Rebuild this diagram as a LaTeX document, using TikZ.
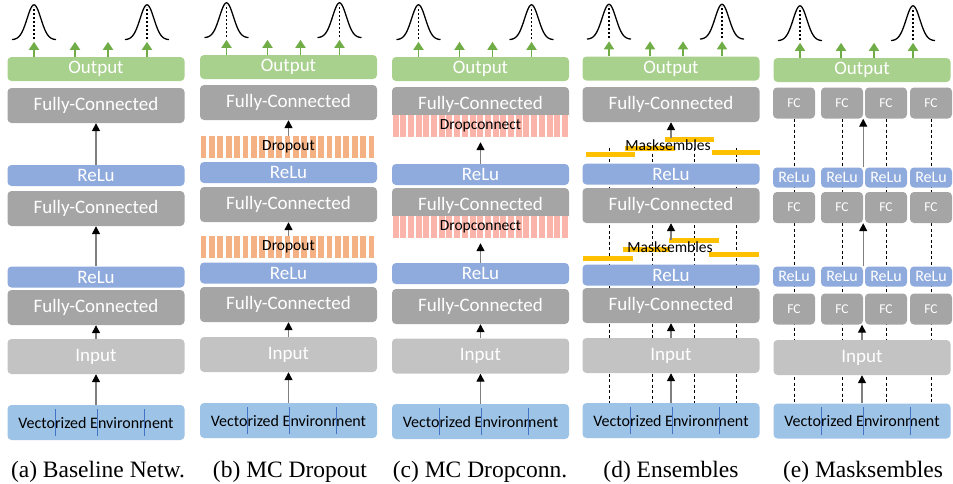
\documentclass[tikz,border=0pt]{standalone}
\usepackage{fontspec}
\setmainfont{Liberation Serif}
\newfontfamily\calibri{Carlito}
\usetikzlibrary{arrows.meta,backgrounds}

\definecolor{outgreen}{HTML}{A9D18E}
\definecolor{fcgray}{HTML}{A5A5A5}
\definecolor{inpgray}{HTML}{C3C3C3}
\definecolor{relublue}{HTML}{8FAADC}
\definecolor{envblue}{HTML}{9DC3E6}
\definecolor{envlinecol}{HTML}{4472C4}
\definecolor{dropcol}{HTML}{F4B183}
\definecolor{dccol}{HTML}{FBB4A9}
\definecolor{maskcol}{HTML}{FFC000}
\definecolor{arrgreen}{HTML}{70AD47}
\definecolor{arrgray}{HTML}{7F7F7F}

\tikzset{
  layer/.style={rounded corners=4pt, inner sep=0pt, minimum width=177pt, text=white,
    font=\calibri\fontsize{19pt}{22pt}\selectfont},
  outbox/.style={layer, fill=outgreen, minimum height=24pt},
  fcbox/.style={layer, fill=fcgray, minimum height=35pt},
  relubox/.style={layer, fill=relublue, minimum height=21pt},
  inbox/.style={layer, fill=inpgray, minimum height=35pt},
  envbox/.style={layer, fill=envblue, minimum height=35pt, text=black,
    font=\calibri\fontsize{16pt}{19pt}\selectfont},
  sfc/.style={layer, fill=fcgray, minimum width=42pt, minimum height=31pt,
    font=\calibri\fontsize{13.5pt}{16pt}\selectfont},
  srelu/.style={layer, fill=relublue, minimum width=42pt, minimum height=20pt,
    font=\calibri\fontsize{16pt}{19pt}\selectfont},
  layerbox/.style={inner sep=0pt, minimum width=177pt, minimum height=22pt,
    font=\calibri\fontsize{15.5pt}{18pt}\selectfont},
  masklabel/.style={inner sep=1pt, font=\calibri\fontsize{15.5pt}{18pt}\selectfont},
  subcap/.style={anchor=base, font=\fontsize{23.5pt}{28pt}\selectfont},
  flow/.style={draw=arrgray, line width=1.4pt, -{Triangle[length=8pt,width=8pt,black]}},
  gflow/.style={draw=arrgreen, line width=1.8pt, -{Triangle[length=8pt,width=10pt]}},
  bell/.style={line width=1.3pt},
  bellmid/.style={line width=1.3pt, dash pattern=on 2pt off 2pt},
  dline/.style={line width=0.8pt, dash pattern=on 3pt off 2.5pt},
  envline/.style={draw=envlinecol, line width=0.6pt},
}

\begin{document}
\begin{tikzpicture}[x=1pt,y=-1pt]
  \useasboundingbox (0,0) rectangle (953,483);

  % (a) baseline network
  \node [outbox] (out-a) at (96,69) {Output};
  \node [fcbox] (fc3-a) at (96,105.5) {Fully-Connected};
  \node [relubox] (relu2-a) at (96,175.5) {ReLu};
  \node [fcbox] (fc2-a) at (96,208.5) {Fully-Connected};
  \node [relubox] (relu1-a) at (96,277) {ReLu};
  \node [fcbox] (fc1-a) at (96,307.5) {Fully-Connected};
  \node [inbox] (inp-a) at (96,356.5) {Input};
  \node [envbox] (env-a) at (96,422.5) {Vectorized Environment};
  \node [subcap] (cap-a) at (98,477) {(a) Baseline Netw.};

  % (b) mc dropout
  \node [outbox] (out-b) at (288.5,67) {Output};
  \node [fcbox] (fc3-b) at (288.5,102.5) {Fully-Connected};
  \foreach \i in {0,...,20}
    \fill[dropcol] (200.5+\i*8.4,136) rectangle ++(5.8,22);
  \node [layerbox] (drop2-b) at (288.5,147) {Dropout};
  \node [relubox] (relu2-b) at (288.5,172.5) {ReLu};
  \node [fcbox] (fc2-b) at (288.5,204.5) {Fully-Connected};
  \foreach \i in {0,...,20}
    \fill[dropcol] (200.5+\i*8.4,236) rectangle ++(5.8,22);
  \node [layerbox] (drop1-b) at (288.5,247) {Dropout};
  \node [relubox] (relu1-b) at (288.5,273) {ReLu};
  \node [fcbox] (fc1-b) at (288.5,304.5) {Fully-Connected};
  \node [inbox] (inp-b) at (288.5,354.5) {Input};
  \node [envbox] (env-b) at (288.5,420.5) {Vectorized Environment};
  \node [subcap] (cap-b) at (290,477) {(b) MC Dropout};

  % (c) mc dropconnect
  \node [outbox] (out-c) at (480.5,69) {Output};
  \node [fcbox] (fc3-c) at (480.5,104.5) {Fully-Connected};
  \fill[white] (392,115) rectangle ++(177,22);
  \foreach \i in {0,...,22}
    \fill[dccol] (392.5+\i*7.7,115) rectangle ++(6,22);
  \node [layerbox] (dc2-c) at (480.5,126) {Dropconnect};
  \node [relubox] (relu2-c) at (480.5,174.5) {ReLu};
  \node [fcbox] (fc2-c) at (480.5,205.5) {Fully-Connected};
  \fill[white] (392,216) rectangle ++(177,22);
  \foreach \i in {0,...,22}
    \fill[dccol] (392.5+\i*7.7,216) rectangle ++(6,22);
  \node [layerbox] (dc1-c) at (480.5,227) {Dropconnect};
  \node [relubox] (relu1-c) at (480.5,273.5) {ReLu};
  \node [fcbox] (fc1-c) at (480.5,306.5) {Fully-Connected};
  \node [inbox] (inp-c) at (480.5,356) {Input};
  \node [envbox] (env-c) at (480.5,421.5) {Vectorized Environment};
  \node [subcap] (cap-c) at (480,477) {(c) MC Dropconn.};

  % (d) ensembles
  \node [outbox] (out-d) at (671,68.5) {Output};
  \node [fcbox] (fc3-d) at (671,104.5) {Fully-Connected};
  \fill[maskcol] (586,152) rectangle (635,157);
  \fill[maskcol] (625,146) rectangle (675,151);
  \fill[maskcol] (665,137) rectangle (714,142);
  \fill[maskcol] (712,150) rectangle (760,155);
  \node [masklabel] (mask2-d) at (668,145) {Masksembles};
  \node [relubox] (relu2-d) at (671,174) {ReLu};
  \node [fcbox] (fc2-d) at (671,205.5) {Fully-Connected};
  \fill[maskcol] (583,256) rectangle (633,261);
  \fill[maskcol] (623,247) rectangle (670,252);
  \fill[maskcol] (669,238) rectangle (719,243);
  \fill[maskcol] (709,252) rectangle (759,257);
  \node [masklabel] (mask1-d) at (670,247) {Masksembles};
  \node [relubox] (relu1-d) at (671,275) {ReLu};
  \node [fcbox] (fc1-d) at (671,305.5) {Fully-Connected};
  \node [inbox] (inp-d) at (671,355.5) {Input};
  \node [envbox] (env-d) at (671,420.5) {Vectorized Environment};
  \node [subcap] (cap-d) at (671,477) {(d) Ensembles};

  % (e) masksembles
  \node [outbox] (out-e) at (862,70) {Output};
  \foreach \n/\x in {1/794,2/842,3/886,4/931} {
    \node [sfc] (fc3\n-e) at (\x,103) {FC};
    \node [srelu] (relu2\n-e) at (\x,177.5) {ReLu};
    \node [sfc] (fc2\n-e) at (\x,207.5) {FC};
    \node [srelu] (relu1\n-e) at (\x,276.5) {ReLu};
    \node [sfc] (fc1\n-e) at (\x,309) {FC};
  }
  \node [inbox] (inp-e) at (862,357.5) {Input};
  \node [envbox] (env-e) at (862,421) {Vectorized Environment};
  \node [subcap] (cap-e) at (863,477) {(e) Masksembles};

  % links
  \draw[flow] (relu2-a) -- (fc3-a);
  \draw[flow] (relu1-a) -- (fc2-a);
  \draw[flow] (inp-a) -- (fc1-a);
  \draw[flow] (env-a) -- (inp-a);
  \draw[flow] (drop2-b) -- (fc3-b);
  \draw[flow] (drop1-b) -- (fc2-b);
  \draw[flow] (inp-b) -- (fc1-b);
  \draw[flow] (env-b) -- (inp-b);
  \draw[flow,shorten >=5pt] (relu2-c) -- (dc2-c);
  \draw[flow,shorten >=5pt] (relu1-c) -- (dc1-c);
  \draw[flow] (inp-c) -- (fc1-c);
  \draw[flow] (env-c) -- (inp-c);
  \draw[flow] (fc3-d.south |- mask2-d.north) -- (fc3-d.south);
  \draw[flow] (fc2-d.south |- mask1-d.north) -- (fc2-d.south);
  \draw[flow] (inp-d) -- (fc1-d);
  \draw[flow] (env-d) -- (inp-d);
  \draw[flow] (relu22-e.north east) -- (fc32-e.south east);
  \draw[flow] (relu12-e.north east) -- (fc22-e.south east);
  \draw[flow] (inp-e) -- (inp-e |- fc12-e.south);
  \draw[flow] (env-e) -- (inp-e);

  % sub-network paths behind the layers
  \begin{scope}[on background layer]
    \foreach \n in {1,...,4}
      \draw[dline] (fc3\n-e.south) -- (fc3\n-e.south |- env-e.north);
    \foreach \dx in {-62,-19,23,65}
      \draw[dline] ([xshift=\dx pt]fc3-d.south) ++(0,26) -- ([xshift=\dx pt]env-d.north);
  \end{scope}

  % split marks in the input vectors
  \foreach \p in {a,...,e}
    \foreach \dx in {-41,1,48}
      \draw[envline] ([xshift=\dx pt,yshift=4pt]env-\p.south) -- ([xshift=\dx pt,yshift=-4pt]env-\p.north);

  % predicted distributions on top
  \foreach \p in {a,...,e} {
    \foreach \dx in {-62,-21,12,51}
      \draw[gflow] ([xshift=\dx pt]out-\p.north) -- ++(0,-15);
    \foreach \dx in {-62,51} {
      \begin{scope}[shift={(out-\p.north)}, xshift=\dx pt]
        \draw[bell] plot[domain=-22:22, samples=45, smooth] (\x,{-17-35*exp(-1*(\x)*(\x)/95)});
        \draw[bellmid] (0,-18) -- (0,-50);
      \end{scope}
    }
  }
\end{tikzpicture}
\end{document}
